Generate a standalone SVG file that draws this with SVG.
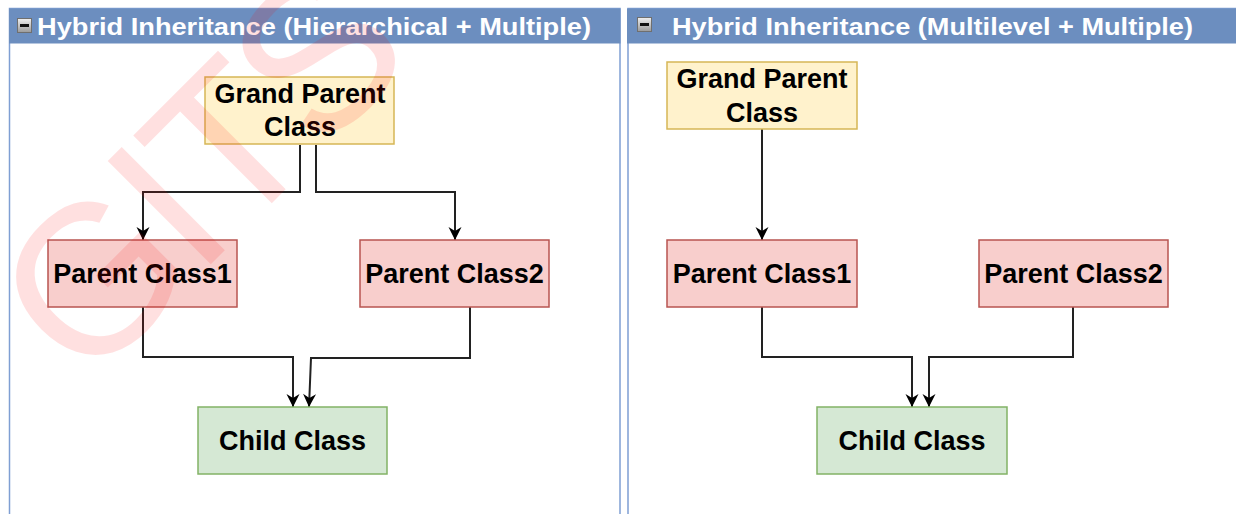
<svg xmlns="http://www.w3.org/2000/svg" width="1236" height="514" viewBox="0 0 1236 514">
  <style>
    .panel { fill: #ffffff; stroke: #7f9fd3; stroke-width: 1.5; }
    .header { fill: #6c8ebf; }
    .title { font-family: "Liberation Sans", Arial, sans-serif; font-weight: bold; font-size: 23px; fill: #ffffff; }
    .label { font-family: "Liberation Sans", Arial, sans-serif; font-weight: bold; font-size: 27px; fill: #000000; text-anchor: middle; }
    .gp { fill: #fff2cc; stroke: #d6b656; stroke-width: 1.5; }
    .parent { fill: #f8cecc; stroke: #b85450; stroke-width: 1.5; }
    .child { fill: #d5e8d4; stroke: #82b366; stroke-width: 1.5; }
    .edge { fill: none; stroke: #222222; stroke-width: 2; marker-end: url(#arrow); }
    .mark { font-family: "Liberation Sans", Arial, sans-serif; font-size: 212px; letter-spacing: -8px; fill: #ff0000; fill-opacity: 0.12; }
  </style>
  <defs>
    <marker id="arrow" markerUnits="userSpaceOnUse" markerWidth="16" markerHeight="16" viewBox="-14 -8 16 16" refX="0" refY="0" orient="auto">
      <path d="M0,0 L-13,-6.5 L-9,0 L-13,6.5 Z" fill="#000000"/>
    </marker>
    <linearGradient id="btn" x1="0" y1="0" x2="0" y2="1">
      <stop offset="0" stop-color="#f0f0f0"/>
      <stop offset="1" stop-color="#9a9a9a"/>
    </linearGradient>
    <g id="collapse">
      <rect x="0.5" y="0.5" width="14" height="14" fill="url(#btn)" stroke="#6f6f6f"/>
      <rect x="3" y="6" width="9" height="3" fill="#111111"/>
    </g>
  </defs>

  <rect width="1236" height="514" fill="#ffffff"/>

  <!-- left container: hierarchical + multiple -->
  <g id="panel-left">
    <rect class="panel" x="9.5" y="8.5" width="610.5" height="520"/>
    <rect class="header" x="9" y="8.5" width="611.5" height="35"/>
    <use href="#collapse" x="17" y="18"/>
    <text class="title" x="37" y="35" textLength="554" lengthAdjust="spacingAndGlyphs">Hybrid Inheritance (Hierarchical + Multiple)</text>
  </g>

  <!-- right container: multilevel + multiple -->
  <g id="panel-right">
    <rect class="panel" x="628" y="8.5" width="620" height="520"/>
    <rect class="header" x="627" y="8.5" width="612" height="35"/>
    <use href="#collapse" x="637" y="17"/>
    <text class="title" x="672" y="35" textLength="521" lengthAdjust="spacingAndGlyphs">Hybrid Inheritance (Multilevel + Multiple)</text>
  </g>

  <!-- connectors -->
  <g id="connectors">
    <path class="edge" d="M300,145 V192 H143 V240"/>
    <path class="edge" d="M316,145 V192 H455 V240"/>
    <path class="edge" d="M143,307 V357 H293 V407"/>
    <path class="edge" d="M470,307 V358 H311 L309,407"/>
    <path class="edge" d="M762,129 V240"/>
    <path class="edge" d="M762,307 V357 H912 V407"/>
    <path class="edge" d="M1073,307 V357 H929 V407"/>
  </g>

  <!-- left nodes -->
  <g id="l-grandparent">
    <rect class="gp" x="205" y="77" width="189" height="67"/>
    <text class="label" x="300" y="103">Grand Parent</text>
    <text class="label" x="300" y="136">Class</text>
  </g>
  <g id="l-parent1">
    <rect class="parent" x="48" y="240" width="189" height="67"/>
    <text class="label" x="142.5" y="283">Parent Class1</text>
  </g>
  <g id="l-parent2">
    <rect class="parent" x="360" y="240" width="189" height="67"/>
    <text class="label" x="454.5" y="283">Parent Class2</text>
  </g>
  <g id="l-child">
    <rect class="child" x="198" y="407" width="189" height="67"/>
    <text class="label" x="292.5" y="450">Child Class</text>
  </g>

  <!-- right nodes -->
  <g id="r-grandparent">
    <rect class="gp" x="667" y="62" width="190" height="67"/>
    <text class="label" x="762" y="88">Grand Parent</text>
    <text class="label" x="762" y="122">Class</text>
  </g>
  <g id="r-parent1">
    <rect class="parent" x="667" y="240" width="190" height="67"/>
    <text class="label" x="762" y="283">Parent Class1</text>
  </g>
  <g id="r-parent2">
    <rect class="parent" x="979" y="240" width="189" height="67"/>
    <text class="label" x="1073.5" y="283">Parent Class2</text>
  </g>
  <g id="r-child">
    <rect class="child" x="817" y="407" width="190" height="67"/>
    <text class="label" x="912" y="450">Child Class</text>
  </g>

  <!-- watermark -->
  <text class="mark" transform="translate(86,389) rotate(-45)">GITS</text>
</svg>
